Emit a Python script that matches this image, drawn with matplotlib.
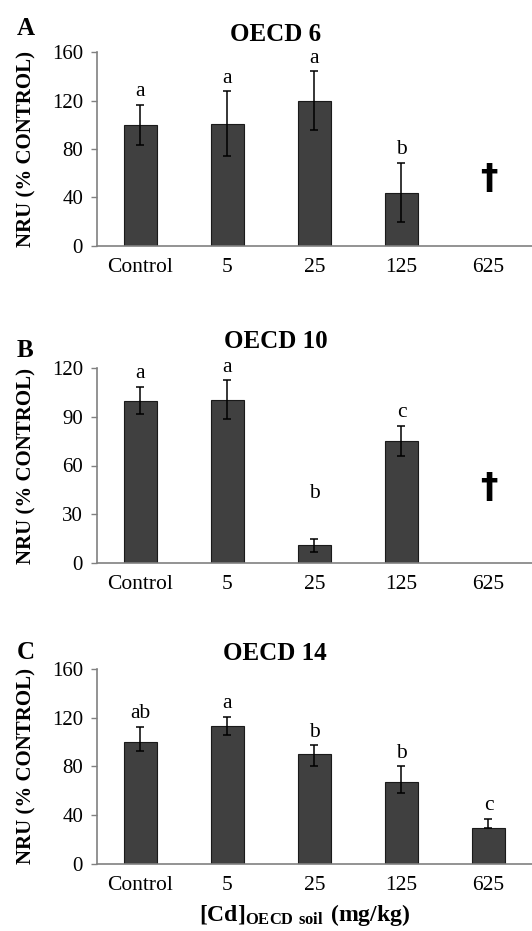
# NRU (% control) frente a [Cd] en tres suelos OECD, tres paneles A, B, C
import numpy as np
import matplotlib
matplotlib.use('Agg')
import matplotlib.pyplot as plt

plt.rcParams['font.family'] = ['Liberation Serif', 'DejaVu Serif']
plt.rcParams['mathtext.fontset'] = 'custom'
plt.rcParams['mathtext.rm'] = 'Liberation Serif'
plt.rcParams['mathtext.bf'] = 'Liberation Serif:bold'

doses = ['Control', '5', '25', '125', '625']

# panel A - OECD 6 (625 sin datos: muerte)
nru_A = [100, 101, 120, 44]
err_lo_A = [16.5, 26.5, 24, 24]
err_hi_A = [16.5, 26.5, 24, 24.5]
letters_A = ['a', 'a', 'a', 'b']

# panel B - OECD 10
nru_B = [100, 100.5, 11, 75]
err_lo_B = [8.5, 12, 4, 9]
err_hi_B = [8.5, 12, 4, 9.5]
letters_B = ['a', 'a', 'b', 'c']

# panel C - OECD 14
nru_C = [100, 113.5, 90.5, 67.5, 29.5]
err_lo_C = [7.5, 7.5, 10, 9, 0]
err_hi_C = [12.5, 7.5, 7, 12.5, 7.5]
letters_C = ['ab', 'a', 'b', 'b', 'c']

panels = [
    ('A', 'OECD 6', nru_A, err_lo_A, err_hi_A, letters_A, 160, 40, 8),
    ('B', 'OECD 10', nru_B, err_lo_B, err_hi_B, letters_B, 120, 30, 14.5),
    ('C', 'OECD 14', nru_C, err_lo_C, err_hi_C, letters_C, 160, 40, 6.5),
]
# posiciones de ejes en fraccion de figura (bottom, height)
boxes = [(0.7358, 0.2083), (0.3953, 0.2094), (0.0720, 0.2094)]
letter_y = [0.9624, 0.6165, 0.2922]
dagger_y = {'A': 55, 'B': 46}
label_override = {('B', 2): 35}

fig = plt.figure(figsize=(5.32, 9.31), dpi=100)

for (tag, title, vals, elo, ehi, lets, ymax, step, tpad), (b, h), ly in zip(panels, boxes, letter_y):
    ax = fig.add_axes([0.1823, b, 1 - 0.1823, h])
    x = np.arange(len(vals))
    ax.bar(x, vals, width=0.39, color='#404040', edgecolor='#1a1a1a', linewidth=0.8, zorder=2)
    ax.errorbar(x, vals, yerr=[elo, ehi], fmt='none', ecolor='black',
                elinewidth=1.1, capsize=3, capthick=1.1, zorder=3)
    for i, l in enumerate(lets):
        top = label_override.get((tag, i), vals[i] + ehi[i])
        ax.annotate(l, (x[i], top), xytext=(0, 2.5), textcoords='offset points',
                    ha='center', va='bottom', fontsize=15.5)
    if tag in dagger_y:
        ax.text(4, dagger_y[tag], '\u2020', ha='center', va='center',
                fontsize=25, fontweight='bold', family='DejaVu Sans')

    ax.set_xlim(-0.5, 4.5)
    ax.set_ylim(0, ymax)
    ax.set_yticks(np.arange(0, ymax + 1, step))
    ax.set_xticks(range(len(doses)))
    ax.set_xticklabels(doses)
    ax.tick_params(axis='x', length=0, pad=9, labelsize=15.5)
    ax.tick_params(axis='y', length=4, width=1, color='#808080', pad=6, labelsize=15)
    for s in ['top', 'right']:
        ax.spines[s].set_visible(False)
    for s in ['left', 'bottom']:
        ax.spines[s].set_color('#808080')
        ax.spines[s].set_linewidth(1.2)

    ax.set_ylabel('NRU (% CONTROL)', fontsize=15, fontweight='bold')
    ax.yaxis.set_label_coords(-0.14, 0.5)
    ax.set_title(title, fontsize=18, fontweight='bold', x=0.41, pad=tpad)
    fig.text(0.032, ly, tag, fontsize=18, fontweight='bold', va='baseline')

    if tag == 'C':
        ax.set_xlabel(r'$\mathbf{[Cd]_{OECD\ soil}\ (mg/kg)}$', fontsize=17,
                      labelpad=5, x=0.478)

fig.savefig('out.png', dpi=100)
